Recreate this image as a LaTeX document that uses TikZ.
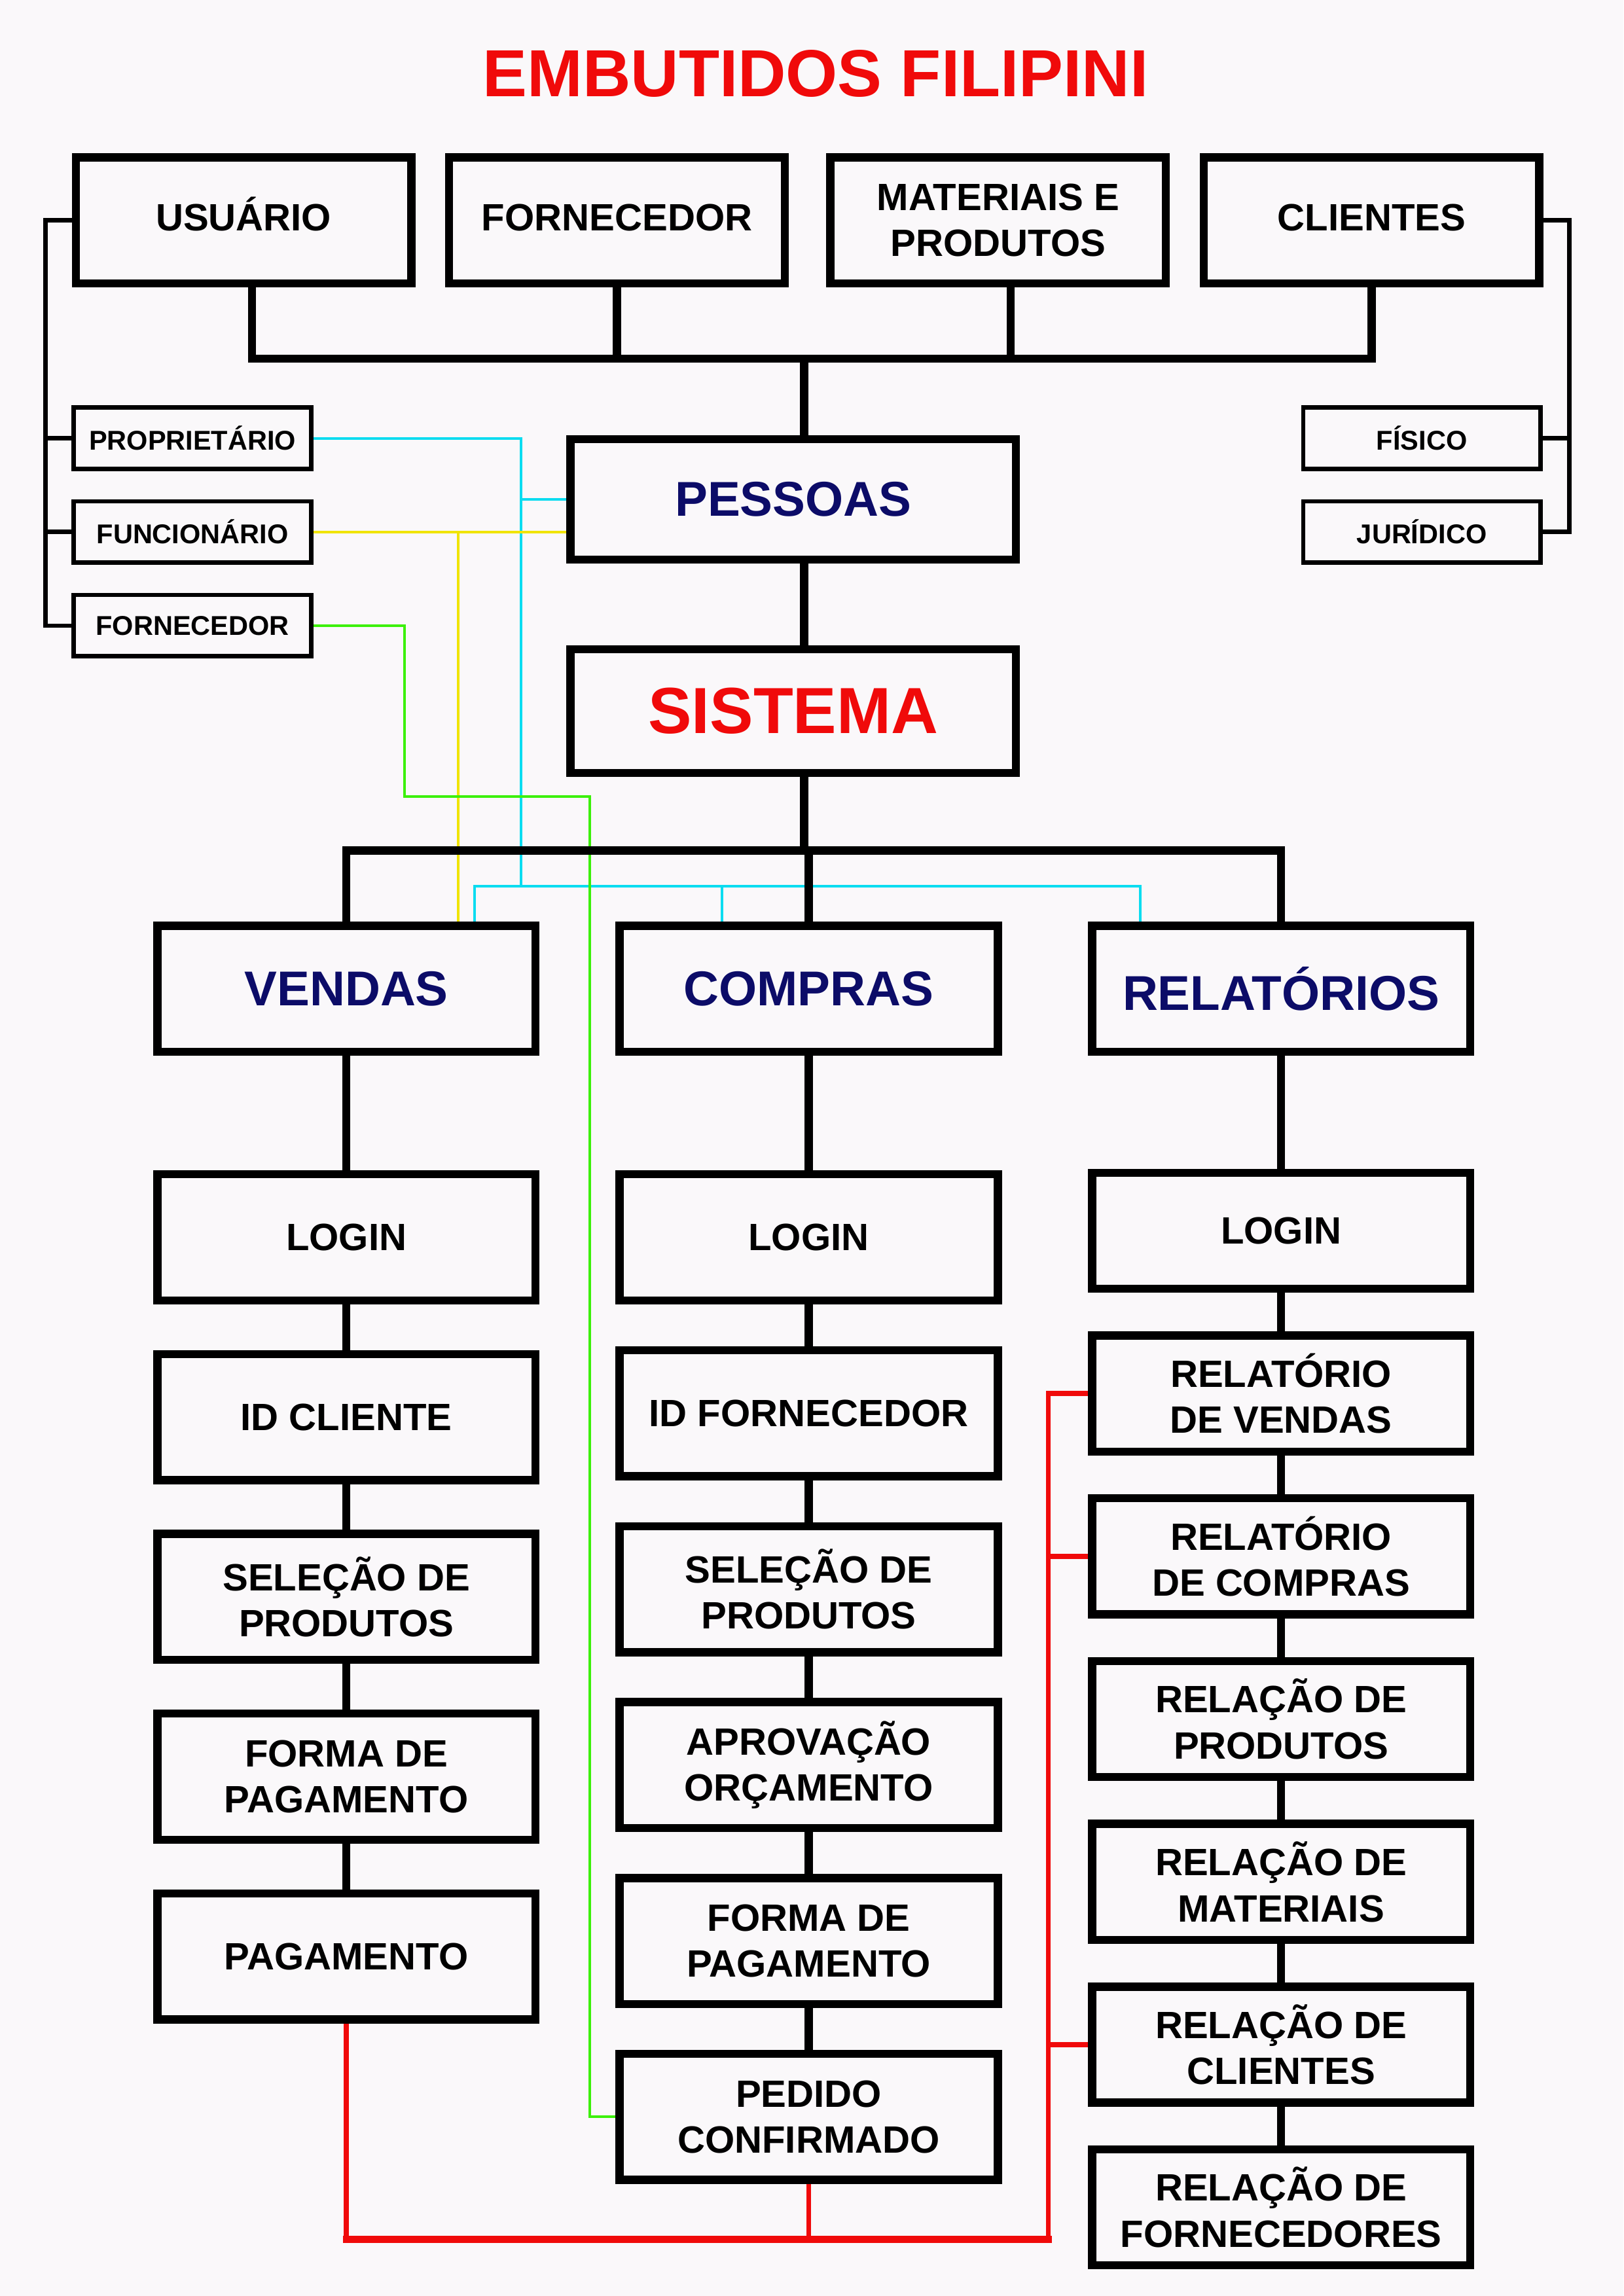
\documentclass[tikz,border=0pt]{standalone}
\usepackage{fontspec}
\setmainfont{Liberation Sans}
\usepackage{tikz}
\usetikzlibrary{positioning}
\definecolor{paper}{RGB}{250,248,250}
\definecolor{navyblue}{RGB}{12,12,104}
\definecolor{titlered}{RGB}{240,10,10}
\definecolor{linecyan}{RGB}{10,220,240}
\definecolor{lineyellow}{RGB}{240,228,0}
\definecolor{linegreen}{RGB}{60,240,10}
\definecolor{linered}{RGB}{240,10,10}

\begin{document}
\begin{tikzpicture}[
    x=1mm, y=-1mm,
    box/.style={rectangle, draw, line width=3pt, minimum width=48.9mm, minimum height=16.3mm, align=center, font=\bfseries\fontsize{14}{17}\selectfont},
    topbox/.style={box, minimum width=43.4mm, minimum height=16.3mm},
    toplabel/.style={topbox, text height=1em, text depth=0.25em},
    header/.style={box, text=navyblue, font=\bfseries\fontsize{18}{21}\selectfont},
    corebox/.style={box, minimum width=57.6mm, minimum height=15.8mm},
    reportbox/.style={box, minimum height=15.0mm},
    smallbox/.style={rectangle, draw, line width=1.6pt, minimum width=30.7mm, minimum height=7.95mm, align=center, font=\bfseries\fontsize{10}{12}\selectfont},
    link/.style={line width=3pt},
    bracket/.style={line width=1.6pt},
    cyanlink/.style={linecyan, line width=1pt},
    yellowlink/.style={lineyellow, line width=1pt},
    greenlink/.style={linegreen, line width=1pt},
    redlink/.style={linered, line width=1.8pt}
]

\useasboundingbox (0,0) rectangle (210,297);
\fill[paper] (0,0) rectangle (210,297);

% Title
\node[font=\bfseries\fontsize{24.5}{28}\selectfont, text=titlered] (title) at (105.5,9.5) {EMBUTIDOS FILIPINI};

% Cadastros
\node[toplabel] (usuario) at (31.5,28.5) {USUÁRIO};
\node[toplabel] (fornecedor) at (79.8,28.5) {FORNECEDOR};
\node[topbox] (materiais) at (129.1,28.5) {MATERIAIS E\\PRODUTOS};
\node[toplabel] (clientes) at (177.4,28.5) {CLIENTES};

% Tipos de usuario e cliente
\node[smallbox] (proprietario) at (24.9,56.7) {PROPRIETÁRIO};
\node[smallbox, below=3.6mm of proprietario] (funcionario) {FUNCIONÁRIO};
\node[smallbox, below=3.6mm of funcionario] (fornpessoa) {FORNECEDOR};
\node[smallbox] (fisico) at (183.9,56.7) {FÍSICO};
\node[smallbox, below=3.6mm of fisico] (juridico) {JURÍDICO};

% Nucleo
\node[corebox, text=navyblue, font=\bfseries\fontsize{18}{21}\selectfont, minimum height=15.6mm] (pessoas) at (102.6,64.6) {PESSOAS};
\node[corebox, text=titlered, font=\bfseries\fontsize{24}{28}\selectfont, minimum height=16mm] (sistema) at (102.6,92.0) {SISTEMA};

% Modulos
\node[header] (vendas) at (44.8,127.9) {VENDAS};
\node[header] (compras) at (104.6,127.9) {COMPRAS};
\node[header] (relatorios) at (165.7,127.9) {RELATÓRIOS};

% Vendas
\node[box, below=14.8mm of vendas] (loginv) {LOGIN};
\node[box, below=5.9mm of loginv] (idcliente) {ID CLIENTE};
\node[box, below=5.9mm of idcliente] (selecaov) {SELEÇÃO DE\\PRODUTOS};
\node[box, below=5.9mm of selecaov] (formav) {FORMA DE\\PAGAMENTO};
\node[box, below=5.9mm of formav] (pagamento) {PAGAMENTO};

% Compras
\node[box, below=14.8mm of compras] (loginc) {LOGIN};
\node[box, below=5.4mm of loginc] (idfornecedor) {ID FORNECEDOR};
\node[box, below=5.4mm of idfornecedor] (selecaoc) {SELEÇÃO DE\\PRODUTOS};
\node[box, below=5.4mm of selecaoc] (aprovacao) {APROVAÇÃO\\ORÇAMENTO};
\node[box, below=5.4mm of aprovacao] (formac) {FORMA DE\\PAGAMENTO};
\node[box, below=5.4mm of formac] (pedido) {PEDIDO\\CONFIRMADO};

% Relatorios
\node[reportbox, below=14.6mm of relatorios] (loginr) {LOGIN};
\node[reportbox, below=5.0mm of loginr] (relvendas) {RELATÓRIO\\DE VENDAS};
\node[reportbox, below=5.0mm of relvendas] (relcompras) {RELATÓRIO\\DE COMPRAS};
\node[reportbox, below=5.0mm of relcompras] (relprodutos) {RELAÇÃO DE\\PRODUTOS};
\node[reportbox, below=5.0mm of relprodutos] (relmateriais) {RELAÇÃO DE\\MATERIAIS};
\node[reportbox, below=5.0mm of relmateriais] (relclientes) {RELAÇÃO DE\\CLIENTES};
\node[reportbox, below=5.0mm of relclientes] (relfornecedores) {RELAÇÃO DE\\FORNECEDORES};

% Acessos (linhas coloridas)
\coordinate (cyanrail) at (67.4,114.6);
\coordinate (cyanleft) at (61.4,114.6);
\coordinate (cyanmid) at (93.4,114.6);
\coordinate (cyanright) at (147.5,114.6);
\draw[cyanlink] (proprietario.east) -| (cyanrail);
\draw[cyanlink] (pessoas.west) -- (pessoas.west -| cyanrail);
\draw[cyanlink] (vendas.north -| cyanleft) -- (cyanleft) -- (cyanright) -- (relatorios.north -| cyanright);
\draw[cyanlink] (cyanmid) -- (compras.north -| cyanmid);

\coordinate (yellowrail) at (59.3,0);
\draw[yellowlink] (funcionario.east) -- (funcionario.east -| pessoas.west);
\draw[yellowlink] (funcionario.east -| yellowrail) -- (vendas.north -| yellowrail);

\coordinate (greenleft) at (52.3,103.0);
\coordinate (greenright) at (76.3,103.0);
\draw[greenlink] (fornpessoa.east) -| (greenleft) -- (greenright) |- (pedido.west);

% Ligacoes
\coordinate (topbar) at (104,46.4);
\coordinate (spine) at (104,0);
\coordinate (usudrop) at ([xshift=1.1mm]usuario.south);
\coordinate (matdrop) at ([xshift=1.6mm]materiais.south);
\draw[link] (usudrop) |- (topbar) -| (clientes.south);
\draw[link] (fornecedor.south) -- (fornecedor.south |- topbar);
\draw[link] (matdrop) -- (matdrop |- topbar);
\draw[link] (topbar) -- (pessoas.north -| spine);
\draw[link] (pessoas.south -| spine) -- (sistema.north -| spine);

\coordinate (modbar) at (104,110.0);
\draw[link] (vendas.north) |- (modbar) -| (relatorios.north);
\draw[link] (sistema.south -| spine) -- (modbar);
\draw[link] (compras.north) -- (compras.north |- modbar);

\draw[link] (vendas) -- (loginv);
\draw[link] (loginv) -- (idcliente);
\draw[link] (idcliente) -- (selecaov);
\draw[link] (selecaov) -- (formav);
\draw[link] (formav) -- (pagamento);

\draw[link] (compras) -- (loginc);
\draw[link] (loginc) -- (idfornecedor);
\draw[link] (idfornecedor) -- (selecaoc);
\draw[link] (selecaoc) -- (aprovacao);
\draw[link] (aprovacao) -- (formac);
\draw[link] (formac) -- (pedido);

\draw[link] (relatorios) -- (loginr);
\draw[link] (loginr) -- (relvendas);
\draw[link] (relvendas) -- (relcompras);
\draw[link] (relcompras) -- (relprodutos);
\draw[link] (relprodutos) -- (relmateriais);
\draw[link] (relmateriais) -- (relclientes);
\draw[link] (relclientes) -- (relfornecedores);

% Chaves laterais
\coordinate (leftrail) at (5.9,0);
\draw[bracket] (usuario.west) -- (usuario.west -| leftrail) |- (fornpessoa.west);
\draw[bracket] (proprietario.west) -- (proprietario.west -| leftrail);
\draw[bracket] (funcionario.west) -- (funcionario.west -| leftrail);
\coordinate (rightrail) at (203.0,0);
\draw[bracket] (clientes.east) -- (clientes.east -| rightrail) |- (juridico.east);
\draw[bracket] (fisico.east) -- (fisico.east -| rightrail);

% Fluxo para relatorios
\coordinate (redbus) at (135.6,289.7);
\draw[redlink] (pagamento.south) -- (pagamento.south |- redbus);
\draw[redlink] (pedido.south) -- (pedido.south |- redbus);
\draw[redlink, line width=2.6pt, line cap=rect] (pagamento.south |- redbus) -- (redbus);
\draw[redlink] (redbus) |- (relvendas.west);
\draw[redlink] (relcompras.west -| redbus) -- (relcompras.west);
\draw[redlink] (relclientes.west -| redbus) -- (relclientes.west);

\end{tikzpicture}
\end{document}
